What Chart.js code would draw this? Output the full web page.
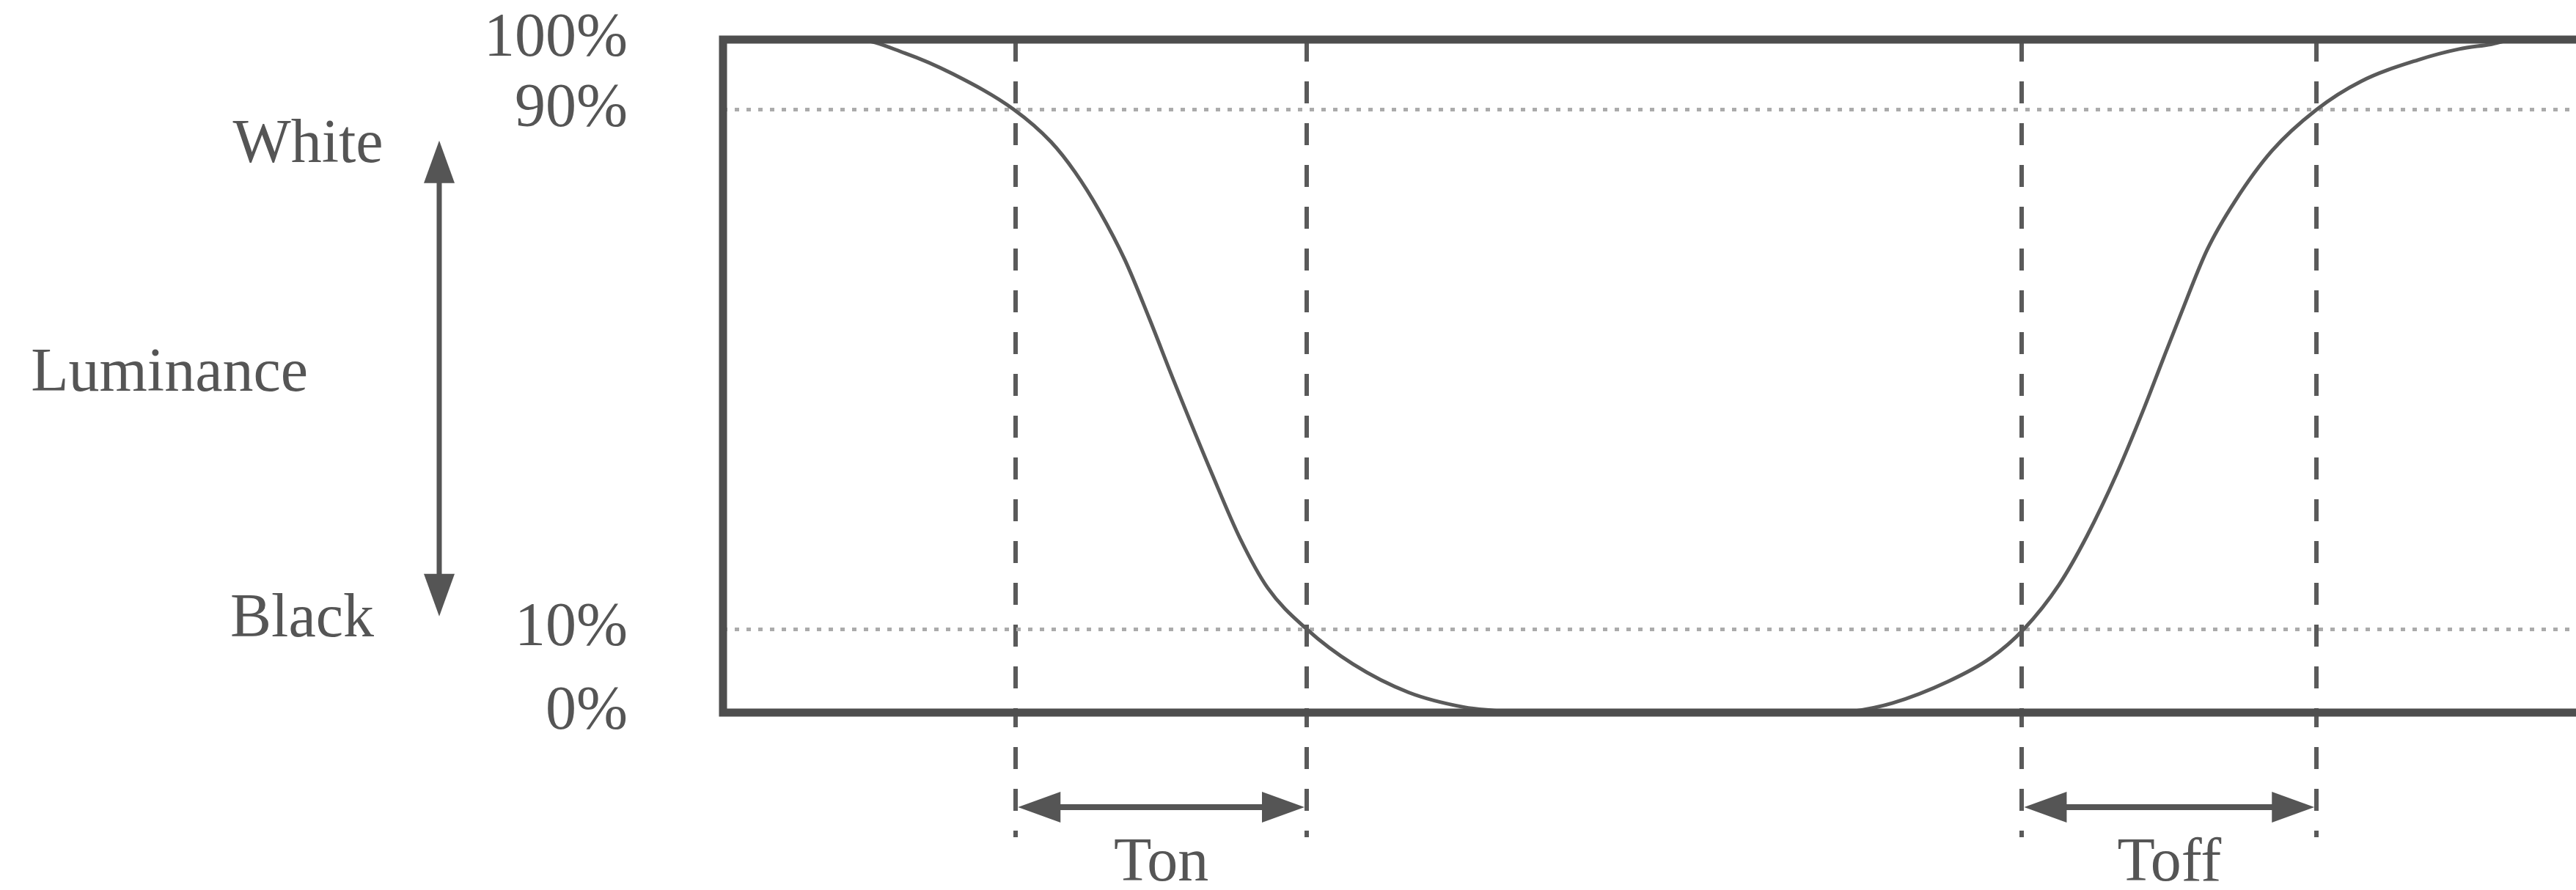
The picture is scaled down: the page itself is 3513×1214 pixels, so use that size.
<!DOCTYPE html>
<html>
<head>
<meta charset="utf-8">
<title>Response time</title>
<script src="https://cdn.jsdelivr.net/npm/chart.js@4.4.1/dist/chart.umd.min.js"></script>
<style>
    html, body { margin: 0; padding: 0; background: #ffffff; overflow: hidden; }
    #wrap { width: 3513px; height: 1214px; position: relative; }
</style>
</head>
<body>
<div id="wrap"><canvas id="responseChart"></canvas></div>
<script>
// time axis runs 0..100 across the frame, luminance in %
const timeUnits = [0, 7.2, 9.8, 12.4, 15.7, 17.7, 19.0, 20.3, 21.7, 23.0, 24.3, 26.4, 27.9, 29.4, 31.5,
    34.0, 37.0, 40.0, 41.6, 42.9, 60.3, 60.8, 63.1, 66.1, 68.4, 70.2, 72.1, 73.6, 75.2, 76.7, 77.7, 78.6,
    80.1, 81.6, 83.6, 86.0, 88.4, 91.5, 93.7, 95.4, 96.7, 100];
const luminance = [100, 100, 98.0, 94.9, 89.6, 84.8, 80.3, 74.6, 67.2, 58.6, 49.5, 35.4, 25.9, 18.5, 12.4,
    7.2, 3.0, 0.8, 0.3, 0, 0, 0.1, 1.4, 4.6, 8.1, 12.4, 19.0, 26.2, 35.4, 45.3, 52.4, 58.7,
    68.8, 76.0, 83.5, 89.6, 93.8, 97.0, 98.6, 99.3, 100, 100];

const levelValues = [0, 12.4, 89.6, 100];
const levelLabels = ['0%', '10%', '90%', '100%'];

const markerTimes = [15.8, 31.5, 70.1, 86.0];
const spanLabels = ['Ton', 'Toff'];
const sideLabels = ['White', 'Luminance', 'Black'];

const ink = '#555555';
const frameColor = '#4e4e4e';
const serif = '"Liberation Serif", "Times New Roman", serif';

function drawArrowHead(ctx, tipX, tipY, dirX, dirY) {
    const len = 58, half = 21;
    const bx = tipX - dirX * len, by = tipY - dirY * len;
    ctx.beginPath();
    ctx.moveTo(tipX, tipY);
    ctx.lineTo(bx - dirY * half, by + dirX * half);
    ctx.lineTo(bx + dirY * half, by - dirX * half);
    ctx.closePath();
    ctx.fill();
}

function drawDoubleArrow(ctx, x1, y1, x2, y2) {
    const d = Math.hypot(x2 - x1, y2 - y1);
    const ux = (x2 - x1) / d, uy = (y2 - y1) / d;
    ctx.beginPath();
    ctx.moveTo(x1 + ux * 40, y1 + uy * 40);
    ctx.lineTo(x2 - ux * 40, y2 - uy * 40);
    ctx.stroke();
    drawArrowHead(ctx, x1, y1, -ux, -uy);
    drawArrowHead(ctx, x2, y2, ux, uy);
}

const annotate = {
    id: 'annotate',
    afterDatasetsDraw(chart) {
        const { ctx, chartArea: a, scales: { x, y } } = chart;
        ctx.save();

        // frame: top, left, bottom (right side runs off the picture)
        ctx.strokeStyle = frameColor;
        ctx.lineWidth = 11;
        ctx.beginPath();
        ctx.moveTo(a.right + 10, a.top);
        ctx.lineTo(a.left, a.top);
        ctx.lineTo(a.left, a.bottom);
        ctx.lineTo(a.right + 10, a.bottom);
        ctx.stroke();

        ctx.strokeStyle = ink;
        ctx.fillStyle = ink;
        ctx.font = '84px ' + serif;

        // Ton / Toff spans under the frame
        const arrowY = a.bottom + 129;
        ctx.lineWidth = 8;
        ctx.textAlign = 'center';
        ctx.textBaseline = 'alphabetic';
        spanLabels.forEach((label, i) => {
            const x1 = x.getPixelForValue(markerTimes[i * 2]) + 3;
            const x2 = x.getPixelForValue(markerTimes[i * 2 + 1]) - 3;
            drawDoubleArrow(ctx, x1, arrowY, x2, arrowY);
            ctx.fillText(label, (x1 + x2) / 2, a.bottom + 229);
        });

        // luminance arrow with its labels
        const ax = 599;
        ctx.lineWidth = 7;
        drawDoubleArrow(ctx, ax, y.getPixelForValue(85), ax, y.getPixelForValue(14.3));

        ctx.textBaseline = 'middle';
        ctx.textAlign = 'center';
        ctx.fillText(sideLabels[0], 420, y.getPixelForValue(84.2));
        ctx.fillText(sideLabels[2], 412, y.getPixelForValue(13.7));
        ctx.textAlign = 'right';
        ctx.fillText(sideLabels[1], 420, y.getPixelForValue(50.2));

        ctx.restore();
    }
};

const ctx = document.getElementById('responseChart').getContext('2d');
new Chart(ctx, {
    type: 'line',
    data: {
        datasets: [{
            data: timeUnits.map((t, i) => ({ x: t, y: luminance[i] })),
            borderColor: '#5a5a5a',
            borderWidth: 5,
            pointRadius: 0,
            cubicInterpolationMode: 'monotone',
            fill: false
        }]
    },
    options: {
        responsive: true,
        maintainAspectRatio: false,
        animation: false,
        devicePixelRatio: 1,
        layout: { padding: { left: 0, right: 0, top: 54, bottom: 72 } },
        plugins: {
            legend: { display: false },
            tooltip: { enabled: false }
        },
        scales: {
            x: {
                type: 'linear',
                min: 0,
                max: 100,
                afterBuildTicks: axis => { axis.ticks = markerTimes.map(v => ({ value: v })); },
                ticks: { display: false },
                border: { display: false, dash: [30, 27] },
                grid: {
                    color: '#5a5a5a',
                    lineWidth: 6,
                    drawTicks: true,
                    tickLength: 170,
                    tickWidth: 6,
                    tickColor: '#5a5a5a',
                    tickBorderDash: [30, 27],
                    tickBorderDashOffset: 10
                }
            },
            y: {
                min: 0,
                max: 100,
                afterBuildTicks: axis => { axis.ticks = levelValues.map(v => ({ value: v })); },
                afterFit: axis => {
                    // the big label gap should not push the plot area down
                    axis.width = 986;
                    axis.paddingTop = 0;
                    axis.paddingBottom = 0;
                },
                ticks: {
                    padding: 130,
                    color: ink,
                    font: { family: serif, size: 84 },
                    callback: value => levelLabels[levelValues.indexOf(value)]
                },
                border: { display: false, dash: [6, 10] },
                grid: {
                    drawTicks: false,
                    lineWidth: 5,
                    color: c => (c.tick && (c.tick.value === 0 || c.tick.value === 100)) ? 'rgba(0,0,0,0)' : '#ababab'
                }
            }
        }
    },
    plugins: [annotate]
});
</script>
</body>
</html>
